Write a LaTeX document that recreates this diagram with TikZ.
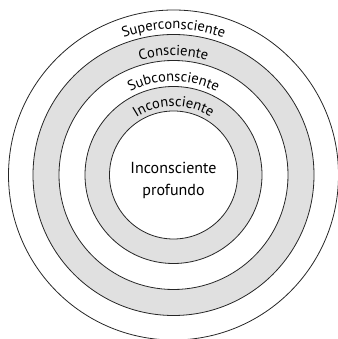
\documentclass[tikz,border=0pt]{standalone}
\usepackage{fontspec}
\setmainfont{PT Sans}
\usetikzlibrary{decorations.text}
\definecolor{bandgray}{gray}{0.88}
\newcommand{\ringfont}{\fontsize{14.5}{16}\selectfont}

\begin{document}
\begin{tikzpicture}[x = 1pt, y = 1pt,
  ring/.style = {draw = black!85, line width = 0.8pt},
  bandlabel/.style = {decorate, decoration = {text along path,
      text align = center, text = {|\ringfont|#1}}}
]
\useasboundingbox (0,0) rectangle (337,339);
\coordinate (c) at (173.5,164);

% grey bands
\fill[bandgray] (c) circle (140.5);
\fill[white] (c) circle (114.5);
\fill[bandgray] (c) circle (88.5);
\fill[white] (c) circle (64);

% rings
\draw[ring] (c) circle (165);
\draw[ring] (c) circle (140.5);
\draw[ring] (c) circle (114.5);
\draw[ring] (c) circle (88.5);
\draw[ring] (c) circle (64);

% labels along the rings
\path[bandlabel = Superconsciente] ([shift = {(180:146)}]c) arc[start angle = 180, end angle = 0, radius = 146];
\path[bandlabel = Consciente] ([shift = {(180:119.5)}]c) arc[start angle = 180, end angle = 0, radius = 119.5];
\path[bandlabel = Subconsciente] ([shift = {(180:93.5)}]c) arc[start angle = 180, end angle = 0, radius = 93.5];
\path[bandlabel = Inconsciente] ([shift = {(180:68.5)}]c) arc[start angle = 180, end angle = 0, radius = 68.5];

\node[align = center, font = \fontsize{16}{22}\selectfont] (core) at ([yshift = -5]c) {Inconsciente\\profundo};
\end{tikzpicture}
\end{document}
